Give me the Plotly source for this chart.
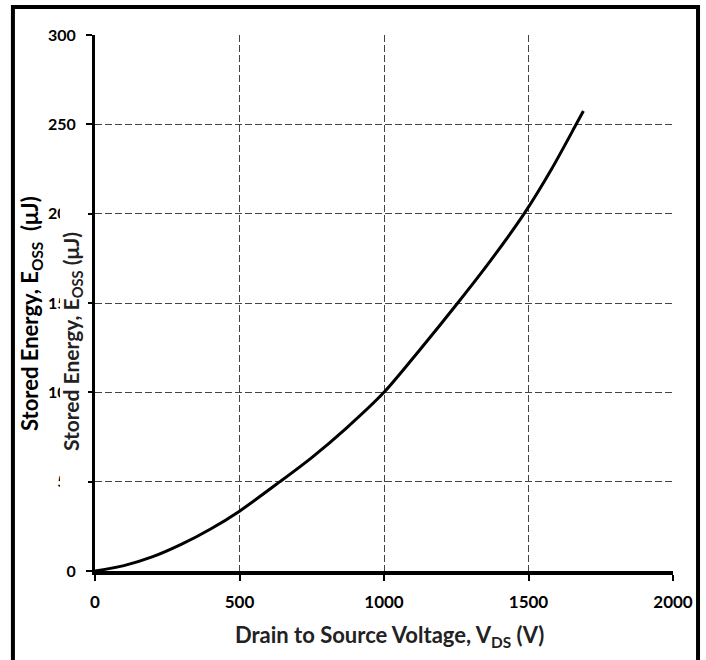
import plotly.graph_objects as go

# Data
vds = [0, 100, 200, 300, 400, 500, 640, 750, 870, 1000, 1125, 1255, 1370, 1485, 1580, 1665, 1690]
eoss = [0, 3, 8, 15, 23.5, 33.5, 50, 63.5, 80, 100, 124, 150, 174, 200, 225, 250, 257.5]

x_ticks = [0, 500, 1000, 1500, 2000]
y_ticks = [0, 50, 100, 150, 200, 250, 300]

FONT = "Lato"
GRID_DASH = "7px,3px"

fig = go.Figure()
fig.add_trace(go.Scatter(x=vds, y=eoss, mode="lines",
                         line=dict(color="black", width=3, shape="spline", smoothing=0.8),
                         showlegend=False, hoverinfo="skip"))

fig.update_layout(
    width=706, height=660,
    margin=dict(l=95, r=33, t=35, b=89),
    paper_bgcolor="white", plot_bgcolor="white",
    font=dict(family=FONT, color="black"),
    xaxis=dict(range=[0, 2000], tickvals=x_ticks, ticktext=[str(v) for v in x_ticks],
               showline=True, linecolor="black", linewidth=3.5,
               ticks="outside", ticklen=6, tickwidth=2, tickcolor="black",
               ticklabelstandoff=7,
               showgrid=True, gridcolor="#444444", gridwidth=1, griddash=GRID_DASH,
               zeroline=False, tickfont=dict(family=FONT, size=17, color="black", weight="bold")),
    yaxis=dict(range=[0, 300], tickvals=y_ticks, ticktext=[str(v) for v in y_ticks],
               showline=True, linecolor="black", linewidth=3,
               ticks="outside", ticklen=6, tickwidth=2, tickcolor="black",
               ticklabelstandoff=7,
               showgrid=True, gridcolor="#444444", gridwidth=1, griddash=GRID_DASH,
               zeroline=False, tickfont=dict(family=FONT, size=16, color="black", weight="bold")),
)

# outer frame
fig.add_shape(type="rect", xref="paper", yref="paper", x0=-0.142, x1=1.0433, y0=-0.19, y1=1.0522,
              line=dict(color="black", width=4), fillcolor="rgba(0,0,0,0)", layer="above")
# white box of the overlapping second title (hides part of the tick labels, as in the reference)
fig.add_shape(type="rect", xref="paper", yref="paper", x0=-0.0606, x1=-0.0121, y0=0.142, y1=0.692,
              line=dict(width=0), fillcolor="white", layer="above")

fig.add_annotation(xref="paper", yref="paper", x=0.509, y=-0.121, xanchor="center", yanchor="middle",
                   text="Drain to Source Voltage, V<sub>DS</sub> (V)", showarrow=False,
                   font=dict(family=FONT, size=22, color="#222222", weight="bold"))
fig.add_annotation(xref="paper", yref="paper", x=-0.1107, y=0.4795, xanchor="center", yanchor="middle",
                   textangle=-90,
                   text="Stored Energy, E<sub>OSS</sub>  (μJ)", showarrow=False,
                   font=dict(family=FONT, size=22, color="black", weight="bold"))
fig.add_annotation(xref="paper", yref="paper", x=-0.0398, y=0.429, xanchor="center", yanchor="middle",
                   textangle=-90,
                   text="Stored Energy, E<sub>OSS</sub> (μJ)", showarrow=False,
                   font=dict(family=FONT, size=21, color="#222222", weight="bold"))

fig.write_html("out.html", config={"displayModeBar": False},
               post_script="document.body.style.margin='0px';")
